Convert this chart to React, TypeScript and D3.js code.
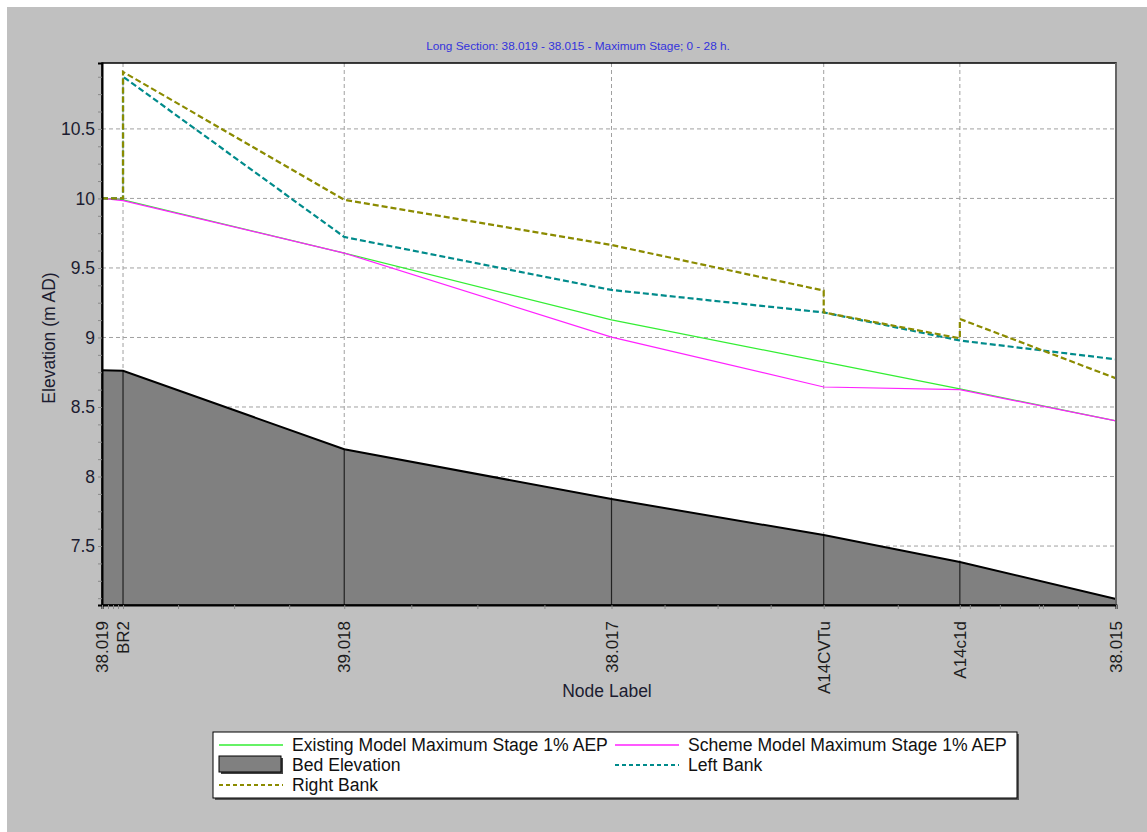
import React, { useEffect, useRef } from "react";
import * as d3 from "d3";

// node labels along the reach and their chainage (m)
const nodeLabels = ["38.019", "BR2", "39.018", "38.017", "A14CVTu", "A14c1d", "38.015"];
const nodeChainage = [0, 10.5, 121, 254.5, 360.5, 428.5, 506.5];

const bedElevation = [8.764, 8.761, 8.196, 7.838, 7.579, 7.385, 7.119];
const existingStage = [10.0, 9.99, 9.607, 9.126, 8.824, 8.63, 8.4];
const schemeStage = [10.0, 9.984, 9.607, 9.003, 8.644, 8.625, 8.4];

// banks have doubled sections at structures
const leftBankChainage = [0, 10.5, 10.5, 121, 254.5, 360.5, 428.5, 506.5];
const leftBank = [10.0, 10.0, 10.876, 9.723, 9.342, 9.18, 8.978, 8.843];
const rightBankChainage = [0, 10.5, 10.5, 121, 254.5, 360.5, 360.5, 428.5, 428.5, 506.5];
const rightBank = [10.0, 10.0, 10.91, 9.99, 9.665, 9.337, 9.18, 8.994, 9.133, 8.706];

const yTicks = [7.5, 8, 8.5, 9, 9.5, 10, 10.5];
const xMinorTicks = [3, 5.5, 8, 38, 66, 93.5, 154.5, 187.5, 221, 281, 307.5, 334, 397.5, 433.5, 448.5, 468, 470, 487.5];

const WIDTH = 1147;
const HEIGHT = 832;
const PLOT = { LEFT: 102, RIGHT: 1116, TOP: 63, BOTTOM: 605 };
const FONT = "'Liberation Sans', Arial, sans-serif";

const COLORS = {
  existing: "#33ee33",
  scheme: "#ff22ff",
  bed: "#808080",
  left: "#008b8b",
  right: "#8b8b00",
};

const App = () => {
  const svgRef = useRef<SVGSVGElement>(null);

  useEffect(() => {
    const svg = d3.select(svgRef.current);
    svg.selectAll("*").remove();

    const x = d3
      .scaleLinear()
      .domain([0, nodeChainage[nodeChainage.length - 1]])
      .range([PLOT.LEFT, PLOT.RIGHT]);
    const y = d3.scaleLinear().domain([7.076, 10.974]).range([PLOT.BOTTOM, PLOT.TOP]);

    svg.append("rect").attr("width", WIDTH).attr("height", HEIGHT).attr("fill", "#fff");
    svg
      .append("rect")
      .attr("x", 7)
      .attr("y", 7)
      .attr("width", WIDTH - 7)
      .attr("height", HEIGHT - 7)
      .attr("fill", "#c0c0c0");

    svg
      .append("text")
      .attr("x", 578)
      .attr("y", 50)
      .attr("text-anchor", "middle")
      .attr("font-family", FONT)
      .attr("font-size", 11.8)
      .attr("fill", "#3333dd")
      .text("Long Section: 38.019 - 38.015 - Maximum Stage; 0 - 28 h.");

    svg
      .append("rect")
      .attr("x", PLOT.LEFT)
      .attr("y", PLOT.TOP)
      .attr("width", PLOT.RIGHT - PLOT.LEFT)
      .attr("height", PLOT.BOTTOM - PLOT.TOP)
      .attr("fill", "#fff");

    // grid
    const grid = svg.append("g").attr("stroke", "#a0a0a0").attr("stroke-dasharray", "4,3");
    grid
      .selectAll("line.h")
      .data(yTicks)
      .join("line")
      .attr("x1", PLOT.LEFT)
      .attr("x2", PLOT.RIGHT)
      .attr("y1", (d) => y(d))
      .attr("y2", (d) => y(d));
    grid
      .selectAll("line.v")
      .data(nodeChainage.slice(1, -1))
      .enter()
      .append("line")
      .attr("x1", (d) => x(d))
      .attr("x2", (d) => x(d))
      .attr("y1", PLOT.TOP)
      .attr("y2", PLOT.BOTTOM);

    // bed elevation
    const bedData = nodeChainage.map((c, i) => [c, bedElevation[i]] as [number, number]);
    svg
      .append("path")
      .datum(bedData)
      .attr("fill", COLORS.bed)
      .attr(
        "d",
        d3
          .area<[number, number]>()
          .x((d) => x(d[0]))
          .y0(PLOT.BOTTOM)
          .y1((d) => y(d[1]))
      );
    svg
      .selectAll("line.node")
      .data(bedData.slice(1, -1))
      .enter()
      .append("line")
      .attr("x1", (d) => x(d[0]))
      .attr("x2", (d) => x(d[0]))
      .attr("y1", (d) => y(d[1]))
      .attr("y2", PLOT.BOTTOM)
      .attr("stroke", "#222")
      .attr("stroke-width", 1.2);
    svg
      .append("path")
      .datum(bedData)
      .attr("fill", "none")
      .attr("stroke", "#000")
      .attr("stroke-width", 2)
      .attr(
        "d",
        d3
          .line<[number, number]>()
          .x((d) => x(d[0]))
          .y((d) => y(d[1]))
      );

    const line = d3
      .line<[number, number]>()
      .x((d) => x(d[0]))
      .y((d) => y(d[1]));

    const drawSeries = (chain: number[], vals: number[], color: string, width: number, dash?: string) => {
      svg
        .append("path")
        .datum(chain.map((c, i) => [c, vals[i]] as [number, number]))
        .attr("fill", "none")
        .attr("stroke", color)
        .attr("stroke-width", width)
        .attr("stroke-dasharray", dash || null)
        .attr("d", line);
    };
    drawSeries(nodeChainage, existingStage, COLORS.existing, 1.2);
    drawSeries(nodeChainage, schemeStage, COLORS.scheme, 1.2);
    drawSeries(leftBankChainage, leftBank, COLORS.left, 2.2, "6,3");
    drawSeries(rightBankChainage, rightBank, COLORS.right, 2.2, "6,3");

    // frame
    svg
      .append("rect")
      .attr("x", PLOT.LEFT)
      .attr("y", PLOT.TOP)
      .attr("width", PLOT.RIGHT - PLOT.LEFT)
      .attr("height", PLOT.BOTTOM - PLOT.TOP)
      .attr("fill", "none")
      .attr("stroke", "#000")
      .attr("stroke-width", 1.5);
    svg
      .append("line")
      .attr("x1", PLOT.RIGHT)
      .attr("x2", PLOT.RIGHT)
      .attr("y1", PLOT.TOP)
      .attr("y2", PLOT.BOTTOM)
      .attr("stroke", "#666")
      .attr("stroke-width", 2);

    // y axis
    const yAxis = d3
      .axisLeft(y)
      .tickValues(d3.range(7.125, 10.974, 0.125))
      .tickSize(4)
      .tickFormat((d) => (yTicks.includes(+d) ? d3.format("")(+d) : ""));
    const gy = svg.append("g").attr("transform", `translate(${PLOT.LEFT},0)`).call(yAxis);
    gy.select(".domain").attr("stroke", "#000").attr("stroke-width", 2);
    gy.selectAll(".tick line").attr("stroke", "#888");
    gy.selectAll(".tick text")
      .attr("font-family", FONT)
      .attr("font-size", 17.5)
      .attr("fill", "#1c1c30")
      .attr("x", -7);

    // x axis
    const xAxis = d3.axisBottom(x).tickValues(xMinorTicks.concat(nodeChainage)).tickSize(4).tickFormat(() => "");
    const gx = svg.append("g").attr("transform", `translate(0,${PLOT.BOTTOM})`).call(xAxis);
    gx.select(".domain").attr("stroke", "#000").attr("stroke-width", 2);
    gx.selectAll(".tick line").attr("stroke", "#888");

    svg
      .append("g")
      .selectAll("text")
      .data(nodeLabels)
      .join("text")
      .attr("transform", (_, i) => `translate(${x(nodeChainage[i]) + 6},621) rotate(-90)`)
      .attr("text-anchor", "end")
      .attr("font-family", FONT)
      .attr("font-size", 17)
      .attr("fill", "#1c1c1c")
      .text((d) => d);

    svg
      .append("text")
      .attr("x", 607)
      .attr("y", 697)
      .attr("text-anchor", "middle")
      .attr("font-family", FONT)
      .attr("font-size", 17.5)
      .attr("fill", "#1c1c30")
      .text("Node Label");
    svg
      .append("text")
      .attr("transform", "translate(55,338) rotate(-90)")
      .attr("text-anchor", "middle")
      .attr("font-family", FONT)
      .attr("font-size", 17.5)
      .attr("fill", "#1c1c30")
      .text("Elevation (m AD)");

    // legend
    const legend = svg.append("g").attr("font-family", FONT).attr("font-size", 17.6).attr("fill", "#111");
    legend.append("rect").attr("x", 215).attr("y", 734).attr("width", 804).attr("height", 66).attr("fill", "#555");
    legend
      .append("rect")
      .attr("x", 213)
      .attr("y", 732)
      .attr("width", 804)
      .attr("height", 66)
      .attr("fill", "#fff")
      .attr("stroke", "#000");

    const items = [
      { label: "Existing Model Maximum Stage 1% AEP", type: "line", color: COLORS.existing, dash: "", col: 0, row: 0 },
      { label: "Scheme Model Maximum Stage 1% AEP", type: "line", color: COLORS.scheme, dash: "", col: 1, row: 0 },
      { label: "Bed Elevation", type: "area", color: COLORS.bed, dash: "", col: 0, row: 1 },
      { label: "Left Bank", type: "line", color: COLORS.left, dash: "4,3", col: 1, row: 1 },
      { label: "Right Bank", type: "line", color: COLORS.right, dash: "4,3", col: 0, row: 2 },
    ];
    const colX = [219, 615];
    items.forEach((it) => {
      const x0 = colX[it.col];
      const cy = 745 + it.row * 20;
      if (it.type === "area") {
        legend.append("rect").attr("x", x0 + 2).attr("y", cy - 7).attr("width", 62).attr("height", 16).attr("fill", "#444");
        legend
          .append("rect")
          .attr("x", x0)
          .attr("y", cy - 9)
          .attr("width", 62)
          .attr("height", 16)
          .attr("fill", it.color)
          .attr("stroke", "#000");
      } else {
        legend
          .append("line")
          .attr("x1", x0)
          .attr("x2", x0 + 64)
          .attr("y1", cy)
          .attr("y2", cy)
          .attr("stroke", it.color)
          .attr("stroke-width", it.dash ? 2 : 1.5)
          .attr("stroke-dasharray", it.dash || null);
      }
      legend
        .append("text")
        .attr("x", x0 + 73)
        .attr("y", cy + 6)
        .text(it.label);
    });
  }, []);

  return (
    <svg
      ref={svgRef}
      width={WIDTH}
      height={HEIGHT}
      style={{ position: "absolute", left: 0, top: 0, display: "block" }}
    ></svg>
  );
};

export default App;
